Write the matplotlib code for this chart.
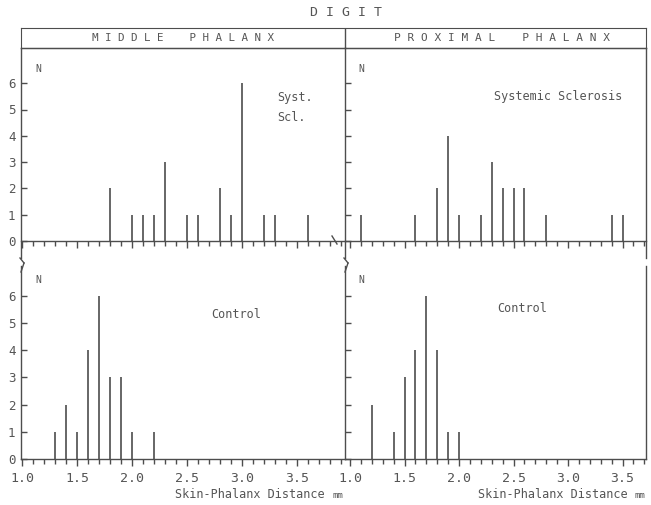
import matplotlib
matplotlib.use("Agg")
import matplotlib.pyplot as plt
from matplotlib.ticker import MultipleLocator, NullFormatter, FixedLocator
from matplotlib.lines import Line2D

plt.rcParams['font.family'] = ['DejaVu Sans Mono', 'DejaVu Sans']
plt.rcParams['ytick.direction'] = 'in'
plt.rcParams['xtick.direction'] = 'out'
plt.rcParams['ytick.right'] = False
plt.rcParams['xtick.top'] = False

# --- data (N per skin-phalanx distance, mm) ---
mid_ssc_x = [1.8, 2.0, 2.1, 2.2, 2.3, 2.5, 2.6, 2.8, 2.9, 3.0, 3.2, 3.3, 3.6]
mid_ssc_n = [2, 1, 1, 1, 3, 1, 1, 2, 1, 6, 1, 1, 1]
prox_ssc_x = [1.1, 1.6, 1.8, 1.9, 2.0, 2.2, 2.3, 2.4, 2.5, 2.6, 2.8, 3.4, 3.5]
prox_ssc_n = [1, 1, 2, 4, 1, 1, 3, 2, 2, 2, 1, 1, 1]
mid_ctl_x = [1.3, 1.4, 1.5, 1.6, 1.7, 1.8, 1.9, 2.0, 2.2]
mid_ctl_n = [1, 2, 1, 4, 6, 3, 3, 1, 1]
prox_ctl_x = [1.2, 1.4, 1.5, 1.6, 1.7, 1.8, 1.9, 2.0]
prox_ctl_n = [2, 1, 3, 4, 6, 4, 1, 1]

x_ticks = [1.0, 1.5, 2.0, 2.5, 3.0, 3.5]
y_ticks = [0, 1, 2, 3, 4, 5, 6]

LC = '#4d4d4d'
TC = '#555555'

W, H = 651, 505
fig = plt.figure(figsize=(W / 100, H / 100), dpi=100)


def ax_at(x0, y0, x1, y1):
    return fig.add_axes([x0 / W, 1 - y1 / H, (x1 - x0) / W, (y1 - y0) / H])


def style(ax, xlim, ylim, top_row, left_col):
    ax.set_xlim(*xlim)
    ax.set_ylim(*ylim)
    for s in ax.spines.values():
        s.set_color(LC)
        s.set_linewidth(1.0)
    if top_row:
        ax.spines['bottom'].set_position(('data', 0))
    else:
        ax.spines['top'].set_visible(False)
    ax.spines['right'].set_visible(not left_col)
    ax.xaxis.set_major_locator(MultipleLocator(0.5))
    ax.xaxis.set_minor_locator(MultipleLocator(0.1))
    ax.yaxis.set_major_locator(FixedLocator(y_ticks))
    ax.tick_params(axis='x', which='both', colors=LC, labelcolor=TC,
                   labelsize=9.5, pad=4)
    ax.tick_params(axis='x', which='major', length=5, width=1)
    ax.tick_params(axis='x', which='minor', length=3.5, width=1)
    ax.tick_params(axis='y', which='both', length=4, width=1, colors=LC,
                   labelcolor=TC, labelsize=9, pad=4, labelleft=left_col)
    if top_row:
        ax.xaxis.set_major_formatter(NullFormatter())
    else:
        ax.xaxis.set_major_formatter(lambda v, p: f"{v:.1f}" if v < 3.75 else "")
    ax.patch.set_alpha(0)


# header row
hd = ax_at(21, 28, 646, 48)
hd.set_xlim(0, 1)
hd.set_ylim(0, 1)
hd.set_xticks([])
hd.set_yticks([])
for s in hd.spines.values():
    s.set_color(LC)
split = (345 - 21) / 625
hd.axvline(split, color=LC, lw=1.0)
hd.text(split / 2, 0.5, "M I D D L E    P H A L A N X", ha='center', va='center',
        fontsize=7.8, color=TC)
hd.text((1 + split) / 2 + 0.01, 0.5, "P R O X I M A L    P H A L A N X", ha='center',
        va='center', fontsize=8, color=TC)
fig.text(346 / W, 1 - 13 / H, "D I G I T", ha='center', va='center',
         fontsize=9.5, color=TC)

left_xlim = (0.99, 0.99 + 324 / 110)
right_xlim = (0.954, 0.954 + 301 / 109)
top_ylim = (-(258 - 241) / 26.3, (241 - 48) / 26.3)
bot_ylim = (0, (459 - 266) / 27.2)

ax1 = ax_at(21, 48, 345, 258)
ax2 = ax_at(345, 48, 646, 258)
ax3 = ax_at(21, 266, 345, 459)
ax4 = ax_at(345, 266, 646, 459)

style(ax1, left_xlim, top_ylim, True, True)
style(ax2, right_xlim, top_ylim, True, False)
style(ax3, left_xlim, bot_ylim, False, True)
style(ax4, right_xlim, bot_ylim, False, False)

ax1.vlines(mid_ssc_x, 0, mid_ssc_n, color=LC, lw=1.2)
ax2.vlines(prox_ssc_x, 0, prox_ssc_n, color=LC, lw=1.2)
ax3.vlines(mid_ctl_x, 0, mid_ctl_n, color=LC, lw=1.2)
ax4.vlines(prox_ctl_x, 0, prox_ctl_n, color=LC, lw=1.2)

for ax in (ax1, ax2, ax3, ax4):
    ax.text(0.045, 0.9 if ax in (ax1, ax2) else 0.93, "N", transform=ax.transAxes,
            fontsize=7, color=TC, ha='left', va='center')

ax1.text(0.846, 0.762, "Syst.", transform=ax1.transAxes, fontsize=8.5, color=TC,
         ha='center', va='center')
ax1.text(0.834, 0.671, "Scl.", transform=ax1.transAxes, fontsize=8.5, color=TC,
         ha='center', va='center')
ax2.text(0.708, 0.767, "Systemic Sclerosis", transform=ax2.transAxes, fontsize=8.5,
         color=TC, ha='center', va='center')
ax3.text(0.665, 0.75, "Control", transform=ax3.transAxes, fontsize=8.5, color=TC,
         ha='center', va='center')
ax4.text(0.59, 0.78, "Control", transform=ax4.transAxes, fontsize=8.5, color=TC,
         ha='center', va='center')

# axis labels
for xc, xm in ((250, 338), (553, 640)):
    fig.text(xc / W, 1 - 495 / H, "Skin-Phalanx Distance", fontsize=8.5, color=TC,
             ha='center', va='center')
    fig.text(xm / W, 1 - 496 / H, "mm", fontsize=6.5, color=TC,
             ha='center', va='center')

# axis break marks
for xb in (22, 346):
    fig.add_artist(Line2D([(xb - 2) / W, (xb + 2) / W], [1 - 258 / H, 1 - 263 / H],
                          color=LC, lw=1.0))
    fig.add_artist(Line2D([(xb + 2) / W, (xb - 1) / W], [1 - 263 / H, 1 - 272 / H],
                          color=LC, lw=1.0))
fig.add_artist(Line2D([332 / W, 337 / W], [1 - 236 / H, 1 - 244 / H], color=LC, lw=1.0))

fig.savefig("out.png", dpi=100, facecolor='white')
